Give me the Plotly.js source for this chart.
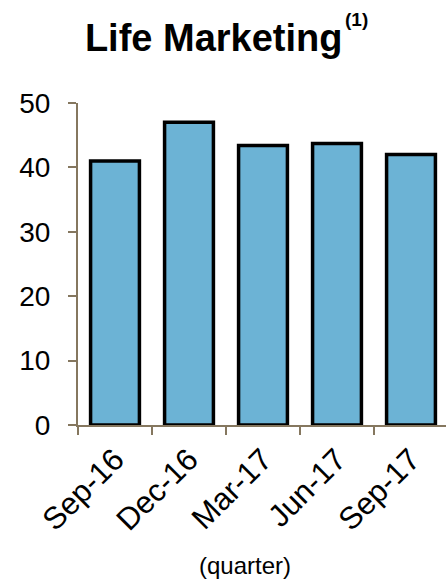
<!DOCTYPE html>
<html>
<head>
<meta charset="utf-8">
<script src="https://cdn.plot.ly/plotly-3.0.1.min.js"></script>
<style>html,body{margin:0;padding:0;overflow:hidden;background:#fff;}#chart{width:448px;height:581px;}</style>
</head>
<body>
<div id="chart"></div>
<script>
const categories = ["Sep-16", "Dec-16", "Mar-17", "Jun-17", "Sep-17"];
const values = [41.0, 47.0, 43.4, 43.7, 42.0];
const yTicks = [0, 10, 20, 30, 40, 50];
const chartTitle = "Life Marketing";
const titleNote = "(1)";
const xLabel = "(quarter)";

const FONT = "Liberation Sans, Arial, sans-serif";
const AXIS = "#85775f";

Plotly.newPlot("chart", [{
  type: "bar",
  x: categories,
  y: values,
  marker: {color: "#6cb3d5", line: {color: "#000000", width: 3.5}},
  hoverinfo: "skip"
}], {
  width: 448, height: 581,
  margin: {l: 78, r: 0, t: 103, b: 156},
  paper_bgcolor: "#ffffff", plot_bgcolor: "#ffffff",
  bargap: 0.34,
  showlegend: false,
  font: {family: FONT, color: "#000"},
  title: {text: chartTitle, x: 0.477, xref: "container", xanchor: "center", y: 0.913, yref: "container", yanchor: "bottom",
          font: {family: FONT, size: 38, color: "#000", weight: "bold"}},
  xaxis: {
    type: "category",
    showline: true, linecolor: AXIS, linewidth: 2,
    ticks: "outside", tickson: "boundaries", ticklen: 8, tickwidth: 2, tickcolor: AXIS,
    tickangle: -45, tickfont: {family: FONT, size: 31, color: "#000"},
    ticklabelstandoff: 2,
    showgrid: false, zeroline: false, fixedrange: true
  },
  yaxis: {
    range: [0, 50], tickvals: yTicks, ticktext: yTicks.map(String),
    showline: true, linecolor: AXIS, linewidth: 2,
    ticks: "outside", ticklen: 8, tickwidth: 2, tickcolor: AXIS,
    tickfont: {family: FONT, size: 28, color: "#000"},
    ticklabelstandoff: 12,
    showgrid: false, zeroline: false, fixedrange: true
  },
  annotations: [{
    text: xLabel, xref: "paper", yref: "paper", x: 0.451, y: -0.435,
    xanchor: "center", yanchor: "middle", showarrow: false,
    font: {family: FONT, size: 24, color: "#000"}
  }, {
    text: "<b>" + titleNote + "</b>", xref: "paper", yref: "paper", x: 0.753, y: 1.258,
    xanchor: "center", yanchor: "middle", showarrow: false,
    font: {family: FONT, size: 19, color: "#000"}
  }]
}, {displayModeBar: false, staticPlot: true});
</script>
</body>
</html>
